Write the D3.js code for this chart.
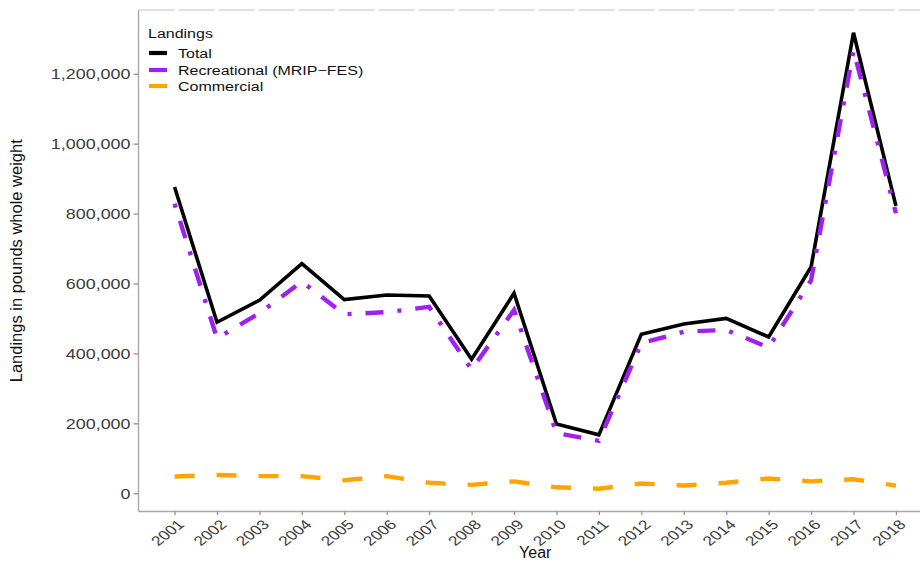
<!DOCTYPE html>
<html>
<head>
<meta charset="utf-8">
<script src="https://cdn.jsdelivr.net/npm/d3@7"></script>
<style>
  html, body { margin: 0; padding: 0; background: #fff; }
  svg { display: block; font-family: "Liberation Sans", Arial, Helvetica, sans-serif; }
</style>
</head>
<body>
<svg id="chart" width="920" height="563"></svg>
<script>
// ---- data ----
const years = [2001, 2002, 2003, 2004, 2005, 2006, 2007, 2008, 2009, 2010, 2011, 2012, 2013, 2014, 2015, 2016, 2017, 2018];
const totalLandings = [876000, 489000, 552000, 657000, 554000, 567000, 564000, 383000, 572000, 198000, 167000, 455000, 484000, 500000, 447000, 647000, 1317000, 822000];
const recreationalLandings = [828000, 443000, 515000, 605000, 512000, 518000, 533000, 354000, 524000, 172000, 150000, 429000, 462000, 467000, 417000, 609000, 1267000, 801000];
const commercialLandings = [48000, 52000, 49000, 49000, 37000, 49000, 30000, 24000, 34000, 17000, 13000, 28000, 22000, 30000, 42000, 34000, 40000, 22000];
const seriesNames = ["Total", "Recreational (MRIP\u2212FES)", "Commercial"];
const yTickValues = [0, 200000, 400000, 600000, 800000, 1000000, 1200000];
const legendTitle = "Landings";
const xTitle = "Year";
const yTitle = "Landings in pounds whole weight";

// ---- layout / style ----
const panel = { left: 138.5, top: 10, right: 932, bottom: 511.5 };
const styles = [
  { color: "#000000", width: 3.6, dash: null },
  { color: "#A020F0", width: 4.4, dash: "4,14,18,14" },
  { color: "#FFA500", width: 4.4, dash: "20,22" }
];
const stretch = 1.28;
const tickColor = "#8a8a8a";
const textColor = "#3c3c3c";

const svg = d3.select("#chart");
const seriesValues = [totalLandings, recreationalLandings, commercialLandings];

// scales (ggplot-style 5% expansion)
const xSpan = d3.max(years) - d3.min(years);
const x = d3.scaleLinear()
  .domain([d3.min(years) - xSpan * 0.05, d3.max(years) + xSpan * 0.05])
  .range([panel.left, panel.right]);
const allVals = seriesValues.flat();
const yMin = d3.min(allVals), yMax = d3.max(allVals);
const ySpan = yMax - yMin;
const y = d3.scaleLinear()
  .domain([yMin - ySpan * 0.05, yMax + ySpan * 0.05])
  .range([panel.bottom, panel.top]);

// panel border
svg.append("line")
  .attr("x1", panel.left).attr("x2", panel.left)
  .attr("y1", panel.top).attr("y2", panel.bottom)
  .attr("stroke", "#a8a8a8").attr("stroke-width", 1.4);
svg.append("line")
  .attr("x1", panel.left).attr("x2", panel.right)
  .attr("y1", panel.bottom).attr("y2", panel.bottom)
  .attr("stroke", "#a8a8a8").attr("stroke-width", 1.4);
svg.append("line")
  .attr("x1", panel.left).attr("x2", panel.right)
  .attr("y1", panel.top).attr("y2", panel.top)
  .attr("stroke", "#c4c4c4").attr("stroke-width", 1.2)
  .attr("stroke-dasharray", "36,4");

// y axis
const yAxis = svg.append("g")
  .attr("transform", `translate(${panel.left},0)`)
  .call(d3.axisLeft(y).tickValues(yTickValues).tickFormat(d3.format(",")).tickSize(5));
yAxis.select(".domain").remove();
yAxis.selectAll(".tick line").attr("stroke", tickColor).attr("stroke-width", 1.2);
yAxis.selectAll(".tick text")
  .attr("x", 0).attr("dy", "0.36em")
  .attr("transform", `translate(-8,0) scale(${stretch},1)`)
  .attr("fill", textColor)
  .style("font-size", "14px")
  .style("font-family", "'Liberation Sans', Arial, sans-serif");

// x axis
const xAxis = svg.append("g")
  .attr("transform", `translate(0,${panel.bottom})`)
  .call(d3.axisBottom(x).tickValues(years).tickFormat(d3.format("d")).tickSize(3.5));
xAxis.select(".domain").remove();
xAxis.selectAll(".tick line").attr("stroke", tickColor).attr("stroke-width", 1.2);
xAxis.selectAll(".tick text")
  .attr("x", 0).attr("y", 0).attr("dy", "0.72em")
  .attr("text-anchor", "end")
  .attr("transform", `translate(1.5,7) scale(${stretch},1) rotate(-45)`)
  .attr("fill", textColor)
  .style("font-size", "13.5px")
  .style("font-family", "'Liberation Sans', Arial, sans-serif");

// axis titles
svg.append("text")
  .attr("x", (panel.left + panel.right) / 2).attr("y", 558)
  .attr("text-anchor", "middle")
  .attr("fill", "#111")
  .style("font-size", "16px")
  .text(xTitle);
svg.append("text")
  .attr("transform", `translate(22,${(panel.top + panel.bottom) / 2}) rotate(-90)`)
  .attr("text-anchor", "middle")
  .attr("fill", "#111")
  .style("font-size", "16.5px")
  .text(yTitle);

// lines
svg.append("clipPath").attr("id", "clip")
  .append("rect").attr("x", panel.left).attr("y", panel.top)
  .attr("width", panel.right - panel.left).attr("height", panel.bottom - panel.top);

const line = d3.line()
  .x((d, i) => x(years[i]))
  .y(d => y(d));

seriesValues.forEach((vals, k) => {
  const st = styles[k];
  svg.append("path")
    .datum(vals)
    .attr("clip-path", "url(#clip)")
    .attr("fill", "none")
    .attr("stroke", st.color)
    .attr("stroke-width", st.width)
    .attr("stroke-linejoin", "miter")
    .attr("stroke-linecap", "butt")
    .attr("stroke-dasharray", st.dash)
    .attr("d", line);
});

// legend
const lg = svg.append("g");
lg.append("text")
  .attr("transform", `translate(148,37.5) scale(${stretch},1)`)
  .attr("fill", "#111")
  .style("font-size", "12.5px")
  .text(legendTitle);
const rowY = [58, 75, 91];
seriesNames.forEach((name, k) => {
  lg.append("line")
    .attr("x1", 149).attr("x2", 167)
    .attr("y1", rowY[k] - 5).attr("y2", rowY[k] - 5)
    .attr("stroke", styles[k].color)
    .attr("stroke-width", 4.2);
  lg.append("text")
    .attr("transform", `translate(178,${rowY[k]}) scale(${stretch},1)`)
    .attr("fill", "#111")
    .style("font-size", "12.5px")
    .text(name);
});
</script>
</body>
</html>
